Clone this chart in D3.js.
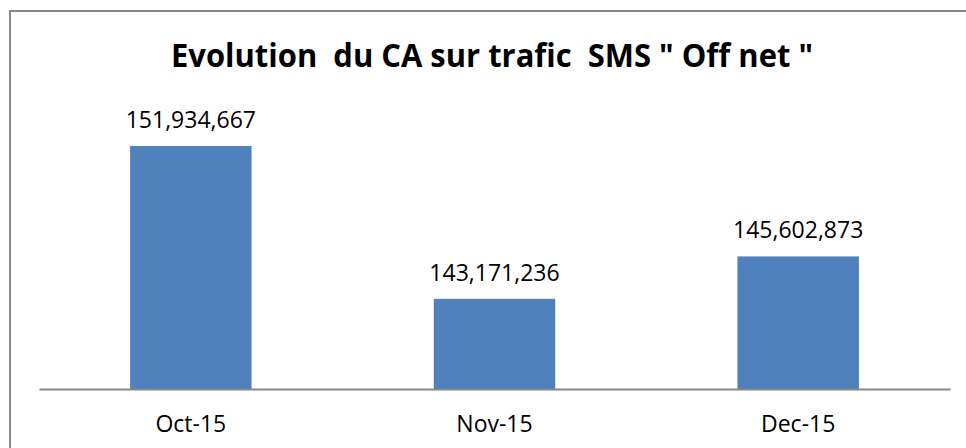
<!DOCTYPE html>
<html lang="fr">
<head>
<meta charset="UTF-8">
<title>Evolution du CA sur trafic SMS Off net</title>
<script src="https://d3js.org/d3.v7.min.js"></script>
<style>
  html, body { margin: 0; padding: 0; background: #fff; }
  svg { display: block; }
  text { font-family: "Open Sans", "Liberation Sans", sans-serif; fill: #000; }
</style>
</head>
<body>
<div id="chart"></div>
<script>
// donnees
const months = ["Oct-15", "Nov-15", "Dec-15"];
const revenue = [151934667, 143171236, 145602873];
const yDomain = [138000000, 154000000];

const W = 966, H = 448;
const plot = { left: 39, right: 950, top: 110, bottom: 389 };

const svg = d3.select("#chart").append("svg")
  .attr("width", W)
  .attr("height", H);

// cadre (seuls les bords haut et gauche sont visibles)
svg.append("path")
  .attr("d", `M10,${H} L10,11 L${W},11`)
  .attr("fill", "none")
  .attr("stroke", "#878787")
  .attr("stroke-width", 2);

// titre
svg.append("text")
  .attr("x", 492)
  .attr("y", 67)
  .attr("text-anchor", "middle")
  .attr("font-size", 33)
  .attr("font-weight", "bold")
  .attr("textLength", 642)
  .attr("lengthAdjust", "spacingAndGlyphs")
  .style("white-space", "pre")
  .text('Evolution  du CA sur trafic  SMS " Off net "');

const x = d3.scaleBand()
  .domain(months)
  .range([plot.left, plot.right])
  .paddingInner(0.6)
  .paddingOuter(0.3);

const y = d3.scaleLinear()
  .domain(yDomain)
  .range([plot.bottom, plot.top]);

const fmt = d3.format(",");

// barres
svg.append("g")
  .selectAll("rect")
  .data(revenue)
  .join("rect")
  .attr("x", (d, i) => x(months[i]))
  .attr("y", d => y(d))
  .attr("width", x.bandwidth())
  .attr("height", d => y(yDomain[0]) - y(d))
  .attr("fill", "#4f81bd");

// etiquettes de valeurs
svg.append("g")
  .selectAll("text")
  .data(revenue)
  .join("text")
  .attr("x", (d, i) => x(months[i]) + x.bandwidth() / 2)
  .attr("y", d => y(d) - 18)
  .attr("text-anchor", "middle")
  .attr("font-size", 23)
  .text(d => fmt(d));

// axe des abscisses
const xAxis = svg.append("g")
  .attr("transform", `translate(0,${plot.bottom})`)
  .call(d3.axisBottom(x).tickSize(0).tickPadding(0));
xAxis.select(".domain")
  .attr("stroke", "#878787")
  .attr("stroke-width", 2);
xAxis.selectAll(".tick text")
  .attr("dy", 0)
  .attr("y", 43)
  .attr("font-size", 23)
  .attr("font-family", "\"Open Sans\", \"Liberation Sans\", sans-serif")
  .attr("fill", "#000");
</script>
</body>
</html>
